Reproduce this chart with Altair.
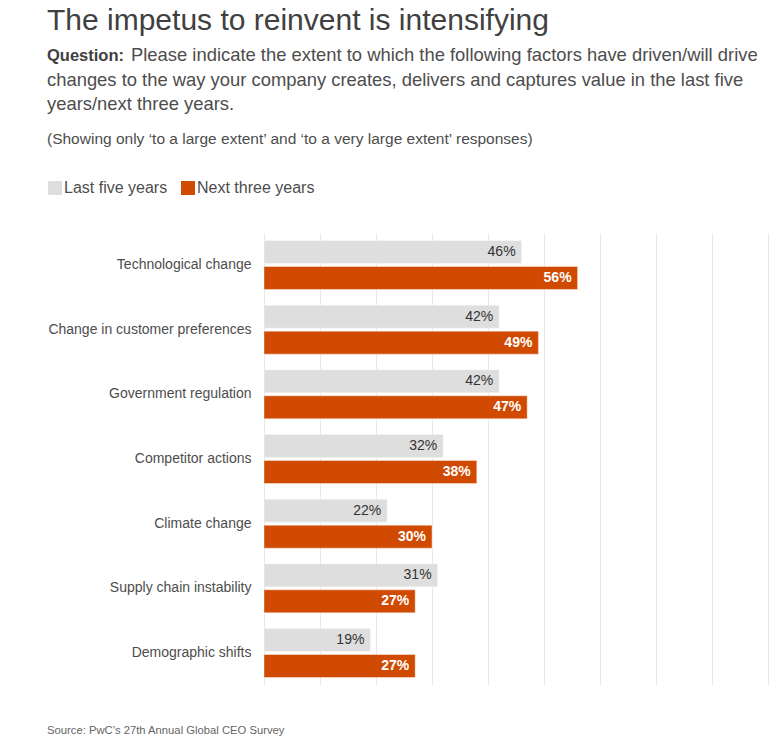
import altair as alt
import pandas as pd

# ---- data ----
categories = [
    "Technological change",
    "Change in customer preferences",
    "Government regulation",
    "Competitor actions",
    "Climate change",
    "Supply chain instability",
    "Demographic shifts",
]
last_five = [46, 42, 42, 32, 22, 31, 19]
next_three = [56, 49, 47, 38, 30, 27, 27]
series = ["Last five years", "Next three years"]
colors = ["#dedede", "#d04a02"]
x_ticks = [0, 10, 20, 30, 40, 50, 60, 70, 80, 90]

title_text = "The impetus to reinvent is intensifying"
question_label = "Question:"
question_lines = [
    "Please indicate the extent to which the following factors have driven/will drive",
    "changes to the way your company creates, delivers and captures value in the last five",
    "years/next three years.",
]
note_text = "(Showing only \u2018to a large extent\u2019 and \u2018to a very large extent\u2019 responses)"
source_text = "Source: PwC\u2019s 27th Annual Global CEO Survey"

rows = []
for cat, a, b in zip(categories, last_five, next_three):
    rows.append({"factor": cat, "series": series[0], "value": a, "label": f"{a}%"})
    rows.append({"factor": cat, "series": series[1], "value": b, "label": f"{b}%"})
df = pd.DataFrame(rows)

FONT = "Liberation Sans"

x_enc = alt.X(
    "value:Q",
    scale=alt.Scale(domain=[0, 90], nice=False, zero=True),
    axis=alt.Axis(values=x_ticks, labels=False, ticks=False, domain=False,
                  grid=True, gridColor="#e8e8e8", gridWidth=1, title=None),
)
y_enc = alt.Y(
    "factor:N",
    sort=categories,
    scale=alt.Scale(paddingInner=0.243, paddingOuter=0.116),
    axis=alt.Axis(title=None, ticks=False, domain=False, labelFontSize=14,
                  labelColor="#4d4d4d", labelPadding=13, labelLimit=300,
                  labelFont=FONT),
)
yoff_enc = alt.YOffset("series:N", sort=series,
                       scale=alt.Scale(domain=series, paddingInner=0.115))

base = alt.Chart(df)

bars = base.mark_bar(stroke="white", strokeWidth=1, strokeOpacity=0.4).encode(
    x=x_enc,
    y=y_enc,
    yOffset=yoff_enc,
    color=alt.Color(
        "series:N",
        scale=alt.Scale(domain=series, range=colors),
        legend=alt.Legend(
            title=None, orient="none", legendX=-217, legendY=-53,
            direction="horizontal", symbolType="square", symbolSize=196,
            symbolStrokeWidth=0, labelFontSize=16, labelColor="#4d4d4d",
            labelFont=FONT, labelOffset=1, columnPadding=12, padding=0,
        ),
    ),
)

labels_last = base.transform_filter(alt.datum.series == series[0]).mark_text(
    align="right", baseline="middle", dx=-6, fontSize=14, color="#333333", font=FONT
).encode(x=x_enc, y=y_enc, yOffset=yoff_enc, text="label:N")

labels_next = base.transform_filter(alt.datum.series == series[1]).mark_text(
    align="right", baseline="middle", dx=-6, fontSize=14, fontWeight="bold",
    color="white", font=FONT
).encode(x=x_enc, y=y_enc, yOffset=yoff_enc, text="label:N")


def text_layer(txt, x, y, size, color, weight="normal"):
    return alt.Chart(pd.DataFrame({"t": [txt]})).mark_text(
        align="left", baseline="alphabetic", fontSize=size, color=color,
        fontWeight=weight, font=FONT
    ).encode(x=alt.value(x), y=alt.value(y), text="t:N")


header = [
    text_layer(title_text, -217, -203, 30, "#404040"),
    text_layer(question_label, -217, -172, 16.5, "#404040", "bold"),
    text_layer(question_lines[0], -133, -172, 18.4, "#4d4d4d"),
    text_layer(question_lines[1], -217, -147, 18.4, "#4d4d4d"),
    text_layer(question_lines[2], -217, -123, 18.4, "#4d4d4d"),
    text_layer(note_text, -217, -89, 15.5, "#4d4d4d"),
    text_layer(source_text, -217, 501, 11.25, "#666666"),
]

chart = alt.layer(bars, labels_last, labels_next, *header).properties(
    width=504,
    height=452,
    padding={"left": 256, "top": 225, "right": 6, "bottom": 53},
    autosize=alt.AutoSizeParams(type="none"),
).configure_view(stroke=None)

chart.save("out.html", embed_options={"renderer": "svg", "actions": False})
